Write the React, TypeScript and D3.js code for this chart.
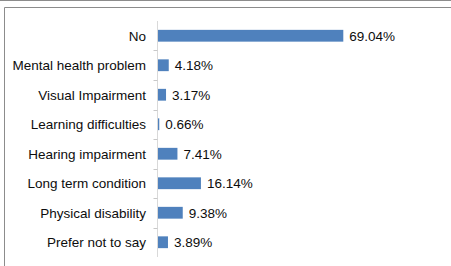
import { useEffect, useRef } from "react";
import * as d3 from "d3";

const categories = [
  "No",
  "Mental health problem",
  "Visual Impairment",
  "Learning difficulties",
  "Hearing impairment",
  "Long term condition",
  "Physical disability",
  "Prefer not to say",
];
const values = [69.04, 4.18, 3.17, 0.66, 7.41, 16.14, 9.38, 3.89];

const W = 451;
const H = 266;

export default function App() {
  const svgRef = useRef<SVGSVGElement>(null);

  useEffect(() => {
    const svg = d3.select(svgRef.current);
    svg.selectAll("*").remove();

    // ---- frame ----
    svg.append("line")
      .attr("x1", 0).attr("x2", W).attr("y1", 0.5).attr("y2", 0.5)
      .attr("stroke", "#8c8c8c");
    svg.append("path")
      .attr("d", `M4.5,${H}V7.5H${W}`)
      .attr("fill", "none")
      .attr("stroke", "#8c8c8c");

    const left = 157.5;
    const x = d3.scaleLinear().domain([0, 69.04]).range([left, 343.3]);
    const y = d3.scaleBand().domain(categories).range([21, 257]).paddingInner(0.6).paddingOuter(0.3);
    const gap = (y.step() * y.paddingInner()) / 2;

    const fnt = "'Liberation Sans', Arial, sans-serif";

    // ---- axis ----
    svg.append("line")
      .attr("x1", left).attr("x2", left)
      .attr("y1", 21).attr("y2", 257)
      .attr("stroke", "#d9d9d9");
    svg.append("g")
      .selectAll("line")
      .data(categories.slice(1))
      .join("line")
      .attr("x1", left - 4).attr("x2", left)
      .attr("y1", (d) => Math.round(y(d)! - gap) + 0.5)
      .attr("y2", (d) => Math.round(y(d)! - gap) + 0.5)
      .attr("stroke", "#c8c8c8");

    // ---- bars ----
    svg.append("g")
      .selectAll("rect")
      .data(categories)
      .join("rect")
      .attr("x", left + 0.5)
      .attr("y", (d) => y(d)!)
      .attr("width", (_d, i) => x(values[i]) - left - 0.5)
      .attr("height", y.bandwidth())
      .attr("fill", "#4f81bd");

    // ---- category labels ----
    svg.append("g")
      .selectAll("text")
      .data(categories)
      .join("text")
      .attr("x", 146)
      .attr("y", (d) => y(d)! + y.bandwidth() / 2)
      .attr("dy", "0.36em")
      .attr("text-anchor", "end")
      .attr("font-family", fnt)
      .attr("font-size", 13.5)
      .attr("fill", "#0d0d0d")
      .text((d) => d);

    // ---- value labels ----
    svg.append("g")
      .selectAll("text")
      .data(categories)
      .join("text")
      .attr("x", (_d, i) => x(values[i]) + 6)
      .attr("y", (d) => y(d)! + y.bandwidth() / 2)
      .attr("dy", "0.36em")
      .attr("font-family", fnt)
      .attr("font-size", 13.5)
      .attr("fill", "#0d0d0d")
      .text((_d, i) => `${values[i].toFixed(2)}%`);
  }, []);

  return (
    <>
      <style>{"body{margin:0}"}</style>
      <svg ref={svgRef} width={W} height={H} style={{ display: "block", background: "#fff" }} />
    </>
  );
}
